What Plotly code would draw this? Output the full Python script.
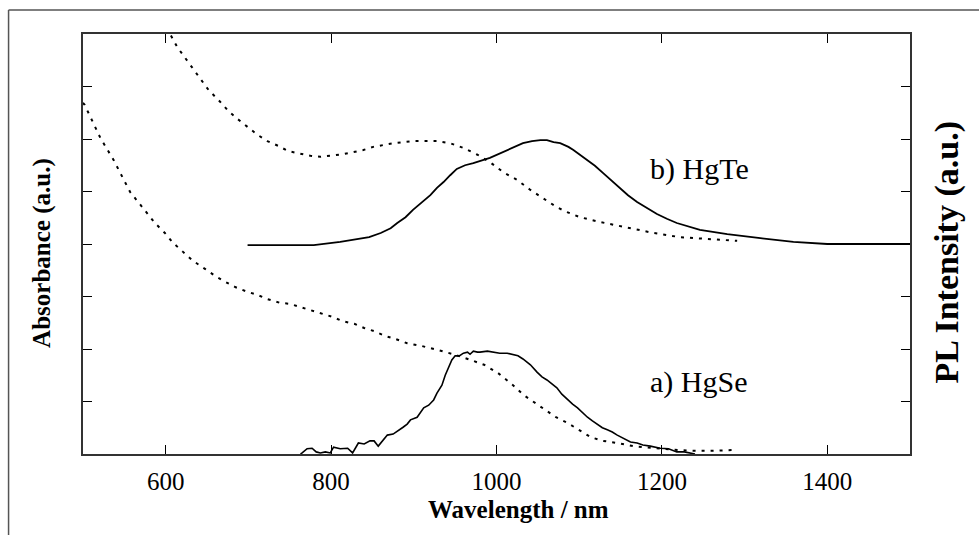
import plotly.graph_objects as go

# ---------------- data ----------------
hgse_abs_x = [500, 502, 521, 537, 557, 578, 587, 599, 609, 621, 633, 648, 660, 672, 684, 697, 711, 723,
              738, 750, 763, 778, 790, 802, 814, 828, 840, 852, 865, 878, 892, 909, 929, 948, 969, 985,
              1002, 1020, 1033, 1045, 1057, 1072, 1086, 1099, 1114, 1129, 1146, 1165, 1189, 1214, 1238,
              1262, 1291]
hgse_abs_y = [6.69, 6.65, 6.02, 5.60, 4.99, 4.59, 4.40, 4.21, 4.02, 3.85, 3.68, 3.52, 3.39, 3.28, 3.18,
              3.10, 3.03, 2.95, 2.88, 2.86, 2.80, 2.72, 2.67, 2.61, 2.53, 2.48, 2.40, 2.34, 2.25, 2.19,
              2.11, 2.06, 1.98, 1.90, 1.79, 1.70, 1.54, 1.31, 1.12, 0.99, 0.86, 0.70, 0.59, 0.46, 0.32,
              0.25, 0.21, 0.15, 0.11, 0.08, 0.06, 0.06, 0.08]

hgse_pl_x = [763, 765, 771, 777, 782, 787, 793, 799, 803, 811, 820, 826, 833, 840, 847, 852, 857, 863,
             868, 875, 881, 887, 892, 896, 904, 908, 912, 918, 924, 928, 932, 934, 938, 942, 946, 950,
             955, 960, 965, 968, 972, 977, 980, 989, 996, 1004, 1013, 1020, 1026, 1032, 1037, 1041,
             1049, 1055, 1061, 1067, 1073, 1079, 1086, 1092, 1098, 1104, 1110, 1116, 1122, 1128, 1134,
             1140, 1146, 1153, 1162, 1170, 1177, 1186, 1198, 1208, 1218, 1227, 1234, 1240]
hgse_pl_y = [0.00, 0.02, 0.10, 0.11, 0.04, 0.02, 0.04, 0.02, 0.13, 0.10, 0.11, 0.02, 0.21, 0.19, 0.25,
             0.25, 0.15, 0.27, 0.36, 0.38, 0.44, 0.51, 0.57, 0.65, 0.70, 0.80, 0.88, 0.93, 1.03, 1.16,
             1.26, 1.31, 1.50, 1.66, 1.79, 1.87, 1.87, 1.92, 1.94, 1.90, 1.96, 1.94, 1.94, 1.96, 1.94,
             1.92, 1.92, 1.89, 1.87, 1.81, 1.75, 1.70, 1.56, 1.47, 1.41, 1.33, 1.26, 1.14, 1.03, 0.95,
             0.88, 0.78, 0.70, 0.63, 0.57, 0.50, 0.46, 0.42, 0.36, 0.30, 0.23, 0.21, 0.17, 0.15, 0.11,
             0.10, 0.04, 0.04, 0.02, 0.00]

hgte_abs_x = [600, 606, 614, 624, 634, 642, 652, 664, 676, 687, 699, 711, 723, 736, 748, 760, 775, 787,
              799, 814, 827, 839, 851, 875, 899, 928, 944, 960, 977, 992, 1008, 1025, 1041, 1057, 1073,
              1085, 1101, 1125, 1158, 1190, 1222, 1255, 1291]
hgte_abs_y = [8.11, 7.98, 7.75, 7.54, 7.31, 7.14, 6.93, 6.74, 6.53, 6.38, 6.23, 6.08, 5.96, 5.87, 5.77,
              5.73, 5.68, 5.66, 5.68, 5.71, 5.75, 5.79, 5.85, 5.92, 5.96, 5.96, 5.92, 5.83, 5.70, 5.56,
              5.37, 5.22, 5.03, 4.86, 4.70, 4.61, 4.51, 4.42, 4.32, 4.21, 4.13, 4.10, 4.06]

hgte_pl_x = [699, 779, 811, 835, 846, 860, 872, 880, 890, 899, 910, 920, 928, 936, 944, 952, 962, 972,
             992, 1013, 1032, 1043, 1053, 1061, 1069, 1077, 1087, 1093, 1101, 1110, 1119, 1129, 1140,
             1150, 1159, 1170, 1182, 1194, 1206, 1218, 1246, 1279, 1319, 1359, 1400, 1500]
hgte_pl_y = [3.98, 3.98, 4.04, 4.10, 4.13, 4.21, 4.30, 4.40, 4.51, 4.65, 4.80, 4.93, 5.07, 5.18, 5.31,
             5.43, 5.50, 5.54, 5.64, 5.79, 5.92, 5.96, 5.98, 5.98, 5.94, 5.92, 5.85, 5.79, 5.70, 5.60,
             5.49, 5.35, 5.20, 5.07, 4.93, 4.80, 4.69, 4.57, 4.48, 4.40, 4.27, 4.19, 4.11, 4.04, 4.00,
             4.00]

x_ticks = [600, 800, 1000, 1200, 1400]
x_range = [500, 1500]
y_range = [0, 8]

labels = ["a) HgSe", "b) HgTe"]
label_x = [1183, 1183]
label_y = [1.38, 5.42]

FONT = "Times New Roman"

fig = go.Figure()
dash = "3px,6px"
fig.add_trace(go.Scatter(x=hgse_abs_x, y=hgse_abs_y, mode="lines",
                         line=dict(color="black", width=2, dash=dash)))
fig.add_trace(go.Scatter(x=hgte_abs_x, y=hgte_abs_y, mode="lines",
                         line=dict(color="black", width=2, dash=dash)))
fig.add_trace(go.Scatter(x=hgse_pl_x, y=hgse_pl_y, mode="lines",
                         line=dict(color="black", width=1.6)))
fig.add_trace(go.Scatter(x=hgte_pl_x, y=hgte_pl_y, mode="lines",
                         line=dict(color="black", width=1.8)))

for t, xx, yy in zip(labels, label_x, label_y):
    fig.add_annotation(x=xx, y=yy, text=t, showarrow=False, xanchor="left", yanchor="middle",
                       font=dict(family=FONT, size=30, color="black"))

# axis titles
fig.add_annotation(xref="paper", yref="paper", x=0.527, y=-0.133, text="<b>Wavelength / nm</b>",
                   showarrow=False, xanchor="center", yanchor="middle",
                   font=dict(family=FONT, size=25, color="black"))
fig.add_annotation(xref="paper", yref="paper", x=-0.049, y=0.48, text="<b>Absorbance (a.u.)</b>",
                   showarrow=False, textangle=-90, xanchor="center", yanchor="middle",
                   font=dict(family=FONT, size=25, color="black"))
fig.add_annotation(xref="paper", yref="paper", x=1.045, y=0.48, text="<b>PL Intensity (a.u.)</b>",
                   showarrow=False, textangle=-90, xanchor="center", yanchor="middle",
                   font=dict(family=FONT, size=34, color="black"))

# outer frame (top and left edges visible)
fig.add_shape(type="line", xref="paper", yref="paper", x0=-0.09, y0=1.057, x1=1.1, y1=1.057,
              line=dict(color="#555555", width=1.5), layer="below")
fig.add_shape(type="line", xref="paper", yref="paper", x0=-0.09, y0=1.057, x1=-0.09, y1=-0.25,
              line=dict(color="#555555", width=1.5), layer="below")

fig.update_xaxes(range=x_range, tickvals=x_ticks, ticks="inside", ticklen=9, tickwidth=1,
                 tickcolor="black", showline=True, linecolor="#333333", linewidth=1.5,
                 mirror="ticks", showgrid=False, zeroline=False, ticklabelstandoff=4,
                 tickfont=dict(family=FONT, size=25, color="black"))
fig.update_yaxes(range=y_range, dtick=1, ticks="inside", ticklen=9, tickwidth=1,
                 tickcolor="black", showline=True, linecolor="#333333", linewidth=1.5,
                 mirror="ticks", showgrid=False, zeroline=False, showticklabels=False)

fig.update_layout(width=979, height=535, showlegend=False,
                  margin=dict(l=82.5, r=69, t=34, b=81),
                  paper_bgcolor="white", plot_bgcolor="white")

fig.write_html("out.html")
